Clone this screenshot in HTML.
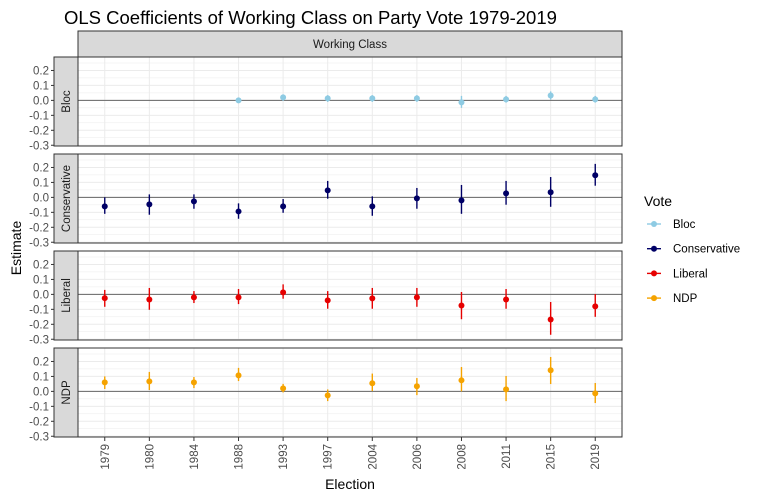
<!DOCTYPE html>
<html><head><meta charset="utf-8"><style>
body{margin:0;background:#fff}
svg{display:block;font-family:"Liberation Sans",Arial,sans-serif}
</style></head><body>
<svg id="c" width="759" height="499" viewBox="0 0 759 499"></svg>
<script>
const years=["1979","1980","1984","1988","1993","1997","2004","2006","2008","2011","2015","2019"];
const parties=["Bloc","Conservative","Liberal","NDP"];
const colors=["#8ecbe3","#000066","#e60000","#f5a300"];
const yTicks=[0.2,0.1,0.0,-0.1,-0.2,-0.3];
const blocEst=[null,null,null,0.0,0.02,0.013,0.013,0.013,-0.013,0.007,0.033,0.007];
const blocLo=[null,null,null,-0.015,-0.003,-0.01,-0.01,-0.01,-0.05,-0.015,0.005,-0.015];
const blocHi=[null,null,null,0.015,0.04,0.035,0.035,0.035,0.03,0.03,0.06,0.03];
const consEst=[-0.06,-0.047,-0.027,-0.094,-0.06,0.047,-0.06,-0.007,-0.02,0.027,0.034,0.148];
const consLo=[-0.11,-0.116,-0.076,-0.143,-0.103,-0.009,-0.123,-0.076,-0.11,-0.049,-0.063,0.078];
const consHi=[0.0,0.02,0.02,-0.04,-0.011,0.11,0.007,0.063,0.083,0.11,0.136,0.224];
const libEst=[-0.025,-0.034,-0.02,-0.02,0.013,-0.04,-0.027,-0.02,-0.074,-0.034,-0.168,-0.08];
const libLo=[-0.083,-0.103,-0.058,-0.065,-0.029,-0.096,-0.096,-0.083,-0.166,-0.096,-0.27,-0.15];
const libHi=[0.03,0.043,0.022,0.036,0.067,0.022,0.043,0.043,0.016,0.036,-0.051,0.002];
const ndpEst=[0.06,0.067,0.06,0.107,0.02,-0.027,0.054,0.034,0.074,0.013,0.141,-0.013];
const ndpLo=[0.016,0.009,0.022,0.069,-0.007,-0.065,0.002,-0.025,0.0,-0.065,0.049,-0.078];
const ndpHi=[0.1,0.13,0.096,0.157,0.05,0.013,0.119,0.089,0.163,0.103,0.23,0.056];
const series=[[blocEst,blocLo,blocHi],[consEst,consLo,consHi],[libEst,libLo,libHi],[ndpEst,ndpLo,ndpHi]];

const NS="http://www.w3.org/2000/svg",svg=document.getElementById('c');
function el(t,a,p){const e=document.createElementNS(NS,t);for(const k in a)e.setAttribute(k,a[k]);(p||svg).appendChild(e);return e;}
const X0=78,X1=622,step=(X1-X0)/(years.length-1+1.2);
const xs=i=>X0+0.6*step+i*step;
const panelTops=[57,154,251,348],PH=89;
const ymax=0.29,ymin=-0.305;
const ys=(v,p)=>panelTops[p]+(ymax-v)/(ymax-ymin)*PH;

let t=el('text',{x:64,y:24,'font-size':18.5,fill:'#000'});t.textContent="OLS Coefficients of Working Class on Party Vote 1979-2019";

let s=el('rect',{x:X0,y:31,width:X1-X0,height:26,fill:'#d9d9d9',stroke:'#333','stroke-width':1});

t=el('text',{x:(X0+X1)/2,y:48,'font-size':11.5,fill:'#1a1a1a','text-anchor':'middle'});t.textContent="Working Class";


parties.forEach((p,pi)=>{
  const top=panelTops[pi];
  const g=el('g',{});
  
  el('rect',{x:X0,y:top,width:X1-X0,height:PH,fill:'#fff'},g);
  for(let v=-0.3;v<=0.26;v+=0.05){const y=ys(v,pi);el('line',{x1:X0,x2:X1,y1:y,y2:y,stroke:'#ebebeb','stroke-width':Math.abs(Math.round(v*20))%2?0.5:1},g);}
  years.forEach((yr,i)=>el('line',{x1:xs(i),x2:xs(i),y1:top,y2:top+PH,stroke:'#ebebeb','stroke-width':1},g));
  el('line',{x1:X0,x2:X1,y1:ys(0,pi),y2:ys(0,pi),stroke:'#666','stroke-width':1},g);
  const [E,L,H]=series[pi];
  years.forEach((yr,i)=>{
    if(E[i]==null)return;
    const b=el('line',{x1:xs(i),x2:xs(i),y1:ys(H[i],pi),y2:ys(L[i],pi),stroke:colors[pi],'stroke-width':1.4},g);
    
    const c=el('circle',{cx:xs(i),cy:ys(E[i],pi),r:3,fill:colors[pi]},g);
    
  });
  el('rect',{x:X0,y:top,width:X1-X0,height:PH,fill:'none',stroke:'#333','stroke-width':1},g);
  el('rect',{x:54,y:top,width:24,height:PH,fill:'#d9d9d9',stroke:'#333','stroke-width':1},g);
  const lt=el('text',{x:0,y:0,'font-size':11.5,fill:'#1a1a1a','text-anchor':'middle',transform:`translate(70,${top+PH/2}) rotate(-90)`},g);
  lt.textContent=p;
  yTicks.forEach(v=>{const y=ys(v,pi);
    el('line',{x1:51,x2:54,y1:y,y2:y,stroke:'#333'},g);
    const tt=el('text',{x:49,y:y+4,'font-size':11.5,fill:'#4d4d4d','text-anchor':'end'},g);tt.textContent=v.toFixed(1);
    });
});
years.forEach((yr,i)=>{
  el('line',{x1:xs(i),x2:xs(i),y1:437,y2:441,stroke:'#333'});
  const tt=el('text',{x:0,y:0,'font-size':11.5,fill:'#4d4d4d','text-anchor':'end',transform:`translate(${xs(i)+4},444) rotate(-90)`});
  tt.textContent=yr;
});
t=el('text',{x:350,y:489,'font-size':14,fill:'#000','text-anchor':'middle'});t.textContent="Election";

t=el('text',{x:0,y:0,'font-size':14,fill:'#000','text-anchor':'middle',transform:'translate(21,248) rotate(-90)'});t.textContent="Estimate";

t=el('text',{x:644,y:206,'font-size':14,fill:'#000'});t.textContent="Vote";

parties.forEach((p,i)=>{
  const y=224+i*24.7;
  const g=el('g',{});
  el('line',{x1:647,x2:661,y1:y,y2:y,stroke:colors[i],'stroke-width':1.4},g);
  el('circle',{cx:654,cy:y,r:3,fill:colors[i]},g);
  const tt=el('text',{x:673,y:y+4,'font-size':11.5,fill:'#000'},g);tt.textContent=p;
});
</script>
</body></html>
